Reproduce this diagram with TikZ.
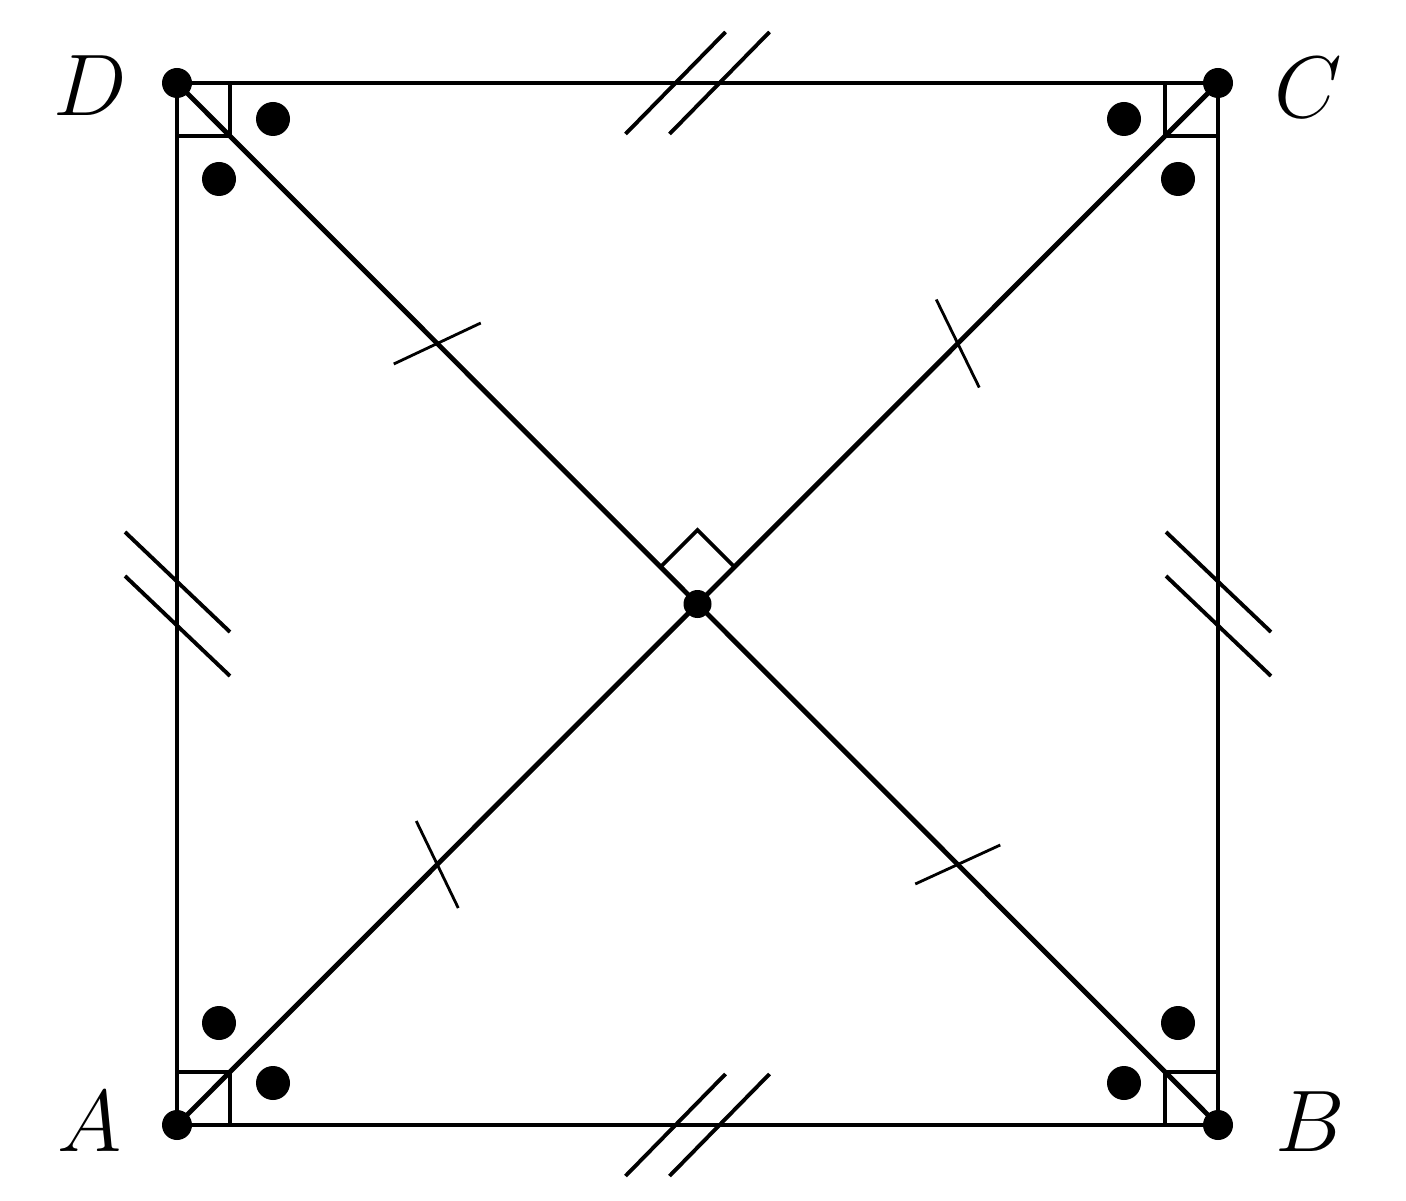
\documentclass[tikz,border=0pt]{standalone}
\usetikzlibrary{calc}
\tikzset{
  mainline/.style={line width=1.4pt},
  ramark/.style={line width=1.1pt},
  sidetick/.style={line width=1.1pt},
  diagtick/.style={line width=0.8pt},
  lbl/.style={inner sep=0pt,font=\fontsize{25}{30}\selectfont}
}
\begin{document}
\begin{tikzpicture}
\useasboundingbox (0,0) rectangle (14.06,12.00);
\coordinate (A) at (1.77,0.75);
\coordinate (B) at (12.18,0.75);
\coordinate (C) at (12.18,11.17);
\coordinate (D) at (1.77,11.17);
\coordinate (O) at (6.975,5.96);
\coordinate (mDC) at ($(D)!0.5!(C)$);
\coordinate (mAB) at ($(A)!0.5!(B)$);
\coordinate (mAD) at ($(A)!0.5!(D)$);
\coordinate (mBC) at ($(B)!0.5!(C)$);
\coordinate (mOD) at ($(O)!0.5!(D)$);
\coordinate (mOC) at ($(O)!0.5!(C)$);
\coordinate (mOA) at ($(O)!0.5!(A)$);
\coordinate (mOB) at ($(O)!0.5!(B)$);
% right angle marks at corners
\draw[ramark] ($(D)+(0.53,0)$) -- ++(0,-0.53) -- ($(D)+(0,-0.53)$);
\draw[ramark] ($(C)+(-0.53,0)$) -- ++(0,-0.53) -- ($(C)+(0,-0.53)$);
\draw[ramark] ($(A)+(0.53,0)$) -- ++(0,0.53) -- ($(A)+(0,0.53)$);
\draw[ramark] ($(B)+(-0.53,0)$) -- ++(0,0.53) -- ($(B)+(0,0.53)$);
% right angle at centre
\draw[ramark] ($(O)+(-0.37,0.37)$) -- ++(0.37,0.37) -- ($(O)+(0.37,0.37)$);
% square and diagonals
\draw[mainline] (A) -- (B) -- (C) -- (D) -- cycle;
\draw[mainline] (A) -- (C);
\draw[mainline] (B) -- (D);
% side ticks
\foreach \dx in {-0.22,0.22}{
  \draw[sidetick] ($(mDC)+(\dx-0.5,-0.51)$) -- ++(1.0,1.02);
  \draw[sidetick] ($(mAB)+(\dx-0.5,-0.51)$) -- ++(1.0,1.02);
  \draw[sidetick] ($(mAD)+(-0.52,\dx+0.5)$) -- ++(1.05,-1.0);
  \draw[sidetick] ($(mBC)+(-0.52,\dx+0.5)$) -- ++(1.05,-1.0);
}
% diagonal ticks
\draw[diagtick] ($(mOD)+(-0.435,-0.205)$) -- ++(0.87,0.41);
\draw[diagtick] ($(mOC)+(-0.215,0.44)$) -- ++(0.43,-0.88);
\draw[diagtick] ($(mOA)+(-0.21,0.435)$) -- ++(0.42,-0.87);
\draw[diagtick] ($(mOB)+(-0.425,-0.195)$) -- ++(0.85,0.39);
% angle dots
\foreach \x/\y in {0.96/-0.36,0.42/-0.96} \fill ($(D)+(\x,\y)$) circle (0.17);
\foreach \x/\y in {-0.94/-0.36,-0.40/-0.96} \fill ($(C)+(\x,\y)$) circle (0.17);
\foreach \x/\y in {0.42/1.02,0.96/0.42} \fill ($(A)+(\x,\y)$) circle (0.17);
\foreach \x/\y in {-0.94/0.42,-0.40/1.02} \fill ($(B)+(\x,\y)$) circle (0.17);
% vertex dots
\foreach \v in {A,B,C,D} \fill (\v) circle (0.15);
\fill (O) circle (0.14);
% labels
\node[lbl] (lA) at (0.90,0.78) {$A$};
\node[lbl] (lB) at (13.10,0.78) {$B$};
\node[lbl] (lC) at (13.08,11.12) {$C$};
\node[lbl] (lD) at (0.90,11.14) {$D$};
\end{tikzpicture}
\end{document}
